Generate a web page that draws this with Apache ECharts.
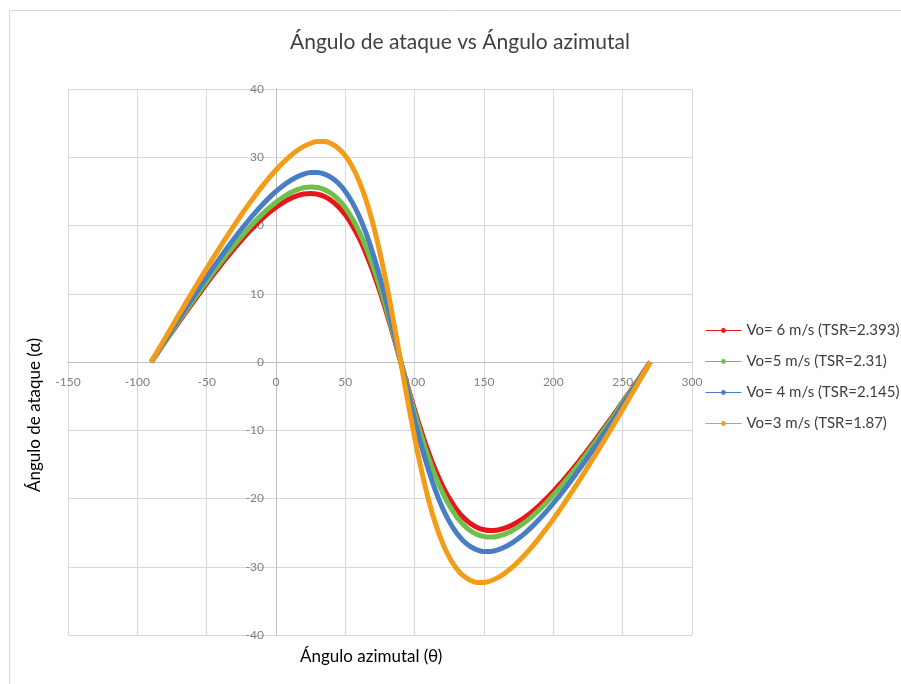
<!DOCTYPE html>
<html>
<head>
<meta charset="utf-8">
<title>Ángulo de ataque vs Ángulo azimutal</title>
<script src="https://cdn.jsdelivr.net/npm/echarts@6/dist/echarts.min.js"></script>
<style>
    html, body {margin: 0; padding: 0; background: #fff;}
    #chart {width: 901px; height: 684px;}
</style>
</head>
<body>
<div id="chart"></div>
<script>
// azimuth angle (deg)
var azimut = [-90, -85, -80, -75, -70, -65, -60, -55, -50, -45, -40, -35, -30, -25, -20, -15, -10, -5, 0, 5, 10, 15, 20, 25, 30, 35,
    40, 45, 50, 55, 60, 65, 70, 75, 80, 85, 90, 95, 100, 105, 110, 115, 120, 125, 130, 135, 140, 145, 150, 155, 160, 165, 170,
    175, 180, 185, 190, 195, 200, 205, 210, 215, 220, 225, 230, 235, 240, 245, 250, 255, 260, 265, 270];

// angle of attack (deg)
var vo6 = [0, 1.47, 2.94, 4.41, 5.86, 7.30, 8.72, 10.12, 11.50, 12.85, 14.16, 15.44, 16.66, 17.84, 18.96, 20.01, 20.99, 21.88,
    22.68, 23.37, 23.93, 24.35, 24.62, 24.70, 24.58, 24.24, 23.64, 22.76, 21.56, 20.02, 18.13, 15.87, 13.24, 10.28, 7.03, 3.57, 0,
    -3.57, -7.03, -10.28, -13.24, -15.87, -18.13, -20.02, -21.56, -22.76, -23.64, -24.24, -24.58, -24.70, -24.62, -24.35, -23.93,
    -23.37, -22.68, -21.88, -20.99, -20.01, -18.96, -17.84, -16.66, -15.44, -14.16, -12.85, -11.50, -10.12, -8.72, -7.30, -5.86,
    -4.41, -2.94, -1.47, 0];
var vo5 = [0, 1.51, 3.02, 4.52, 6.01, 7.49, 8.95, 10.39, 11.80, 13.19, 14.54, 15.86, 17.13, 18.35, 19.51, 20.61, 21.63, 22.57,
    23.41, 24.14, 24.75, 25.22, 25.53, 25.65, 25.57, 25.26, 24.68, 23.80, 22.60, 21.04, 19.10, 16.76, 14.01, 10.90, 7.47, 3.80, 0,
    -3.80, -7.47, -10.90, -14.01, -16.76, -19.10, -21.04, -22.60, -23.80, -24.68, -25.26, -25.57, -25.65, -25.53, -25.22, -24.75,
    -24.14, -23.41, -22.57, -21.63, -20.61, -19.51, -18.35, -17.13, -15.86, -14.54, -13.19, -11.80, -10.39, -8.95, -7.49, -6.01,
    -4.52, -3.02, -1.51, 0];
var vo4 = [0, 1.59, 3.18, 4.76, 6.33, 7.89, 9.43, 10.95, 12.45, 13.92, 15.36, 16.77, 18.13, 19.44, 20.70, 21.89, 23.01, 24.05,
    24.99, 25.83, 26.54, 27.12, 27.53, 27.75, 27.77, 27.53, 27.02, 26.19, 24.99, 23.39, 21.35, 18.84, 15.84, 12.38, 8.51, 4.34, 0,
    -4.34, -8.51, -12.38, -15.84, -18.84, -21.35, -23.39, -24.99, -26.19, -27.02, -27.53, -27.77, -27.75, -27.53, -27.12, -26.54,
    -25.83, -24.99, -24.05, -23.01, -21.89, -20.70, -19.44, -18.13, -16.77, -15.36, -13.92, -12.45, -10.95, -9.43, -7.89, -6.33,
    -4.76, -3.18, -1.59, 0];
var vo3 = [0, 1.74, 3.48, 5.21, 6.94, 8.66, 10.36, 12.04, 13.70, 15.34, 16.95, 18.53, 20.07, 21.57, 23.02, 24.41, 25.73, 26.98,
    28.14, 29.19, 30.14, 30.94, 31.59, 32.05, 32.30, 32.29, 31.97, 31.30, 30.21, 28.63, 26.47, 23.68, 20.19, 15.98, 11.10, 5.70, 0,
    -5.70, -11.10, -15.98, -20.19, -23.68, -26.47, -28.63, -30.21, -31.30, -31.97, -32.29, -32.30, -32.05, -31.59, -30.94, -30.14,
    -29.19, -28.14, -26.98, -25.73, -24.41, -23.02, -21.57, -20.07, -18.53, -16.95, -15.34, -13.70, -12.04, -10.36, -8.66, -6.94,
    -5.21, -3.48, -1.74, 0];

var seriesNames = ['Vo= 6 m/s (TSR=2.393)', 'Vo=5 m/s (TSR=2.31)', 'Vo= 4 m/s (TSR=2.145)', 'Vo=3 m/s (TSR=1.87)'];
var seriesData = [vo6, vo5, vo4, vo3];
var colorArr = ['#e8161b', '#6fbf4a', '#4a7ec4', '#f39c17'];

var font = 'Lato, "Liberation Sans", sans-serif';

function pairs(ys) {
    var out = [];
    for (var i = 0; i < azimut.length; i++) {
        out.push([azimut[i], ys[i]]);
    }
    return out;
}

var series = [];
for (var i = 0; i < seriesData.length; i++) {
    series.push({
        name: seriesNames[i],
        type: 'line',
        data: pairs(seriesData[i]),
        smooth: 0.4,
        symbol: 'circle',
        symbolSize: 5,
        showSymbol: false,
        lineStyle: {color: colorArr[i], width: 5},
        itemStyle: {color: colorArr[i]},
        emphasis: {disabled: true}
    });
}

var myChart = echarts.init(document.getElementById('chart'));

// the axes cross at 0 like in the spreadsheet: move them with a negative offset
var gridLeft = 68, gridRight = 692, gridTop = 89, gridBottom = 635;
var xZero = gridLeft + (0 - -150) / 450 * (gridRight - gridLeft);
var yZero = gridTop + (40 - 0) / 80 * (gridBottom - gridTop);

var option = {
    animation: false,
    color: colorArr,
    title: {
        text: 'Ángulo de ataque vs Ángulo azimutal',
        left: 455,
        textAlign: 'center',
        top: 27,
        textStyle: {fontFamily: font, fontSize: 21, fontWeight: 'normal', color: '#404040'}
    },
    grid: {left: gridLeft, right: 901 - gridRight, top: gridTop, bottom: 684 - gridBottom},
    legend: {
        orient: 'vertical',
        left: 700,
        top: 318,
        itemWidth: 36,
        itemHeight: 6,
        itemGap: 16,
        lineStyle: {width: 1},
        textStyle: {fontFamily: font, fontSize: 15, color: '#404040'},
        data: seriesNames
    },
    xAxis: {
        type: 'value',
        min: -150,
        max: 300,
        interval: 50,
        position: 'bottom',
        offset: -(gridBottom - yZero),
        axisLine: {onZero: false, lineStyle: {color: '#bfbfbf'}},
        axisTick: {show: false},
        axisLabel: {fontFamily: font, fontSize: 12, color: '#808080', margin: 14},
        splitLine: {lineStyle: {color: '#d9d9d9'}}
    },
    yAxis: {
        type: 'value',
        min: -40,
        max: 40,
        interval: 10,
        position: 'left',
        offset: -(xZero - gridLeft),
        axisLine: {show: true, onZero: false, lineStyle: {color: '#bfbfbf'}},
        axisTick: {show: false},
        axisLabel: {fontFamily: font, fontSize: 12, color: '#808080', margin: 12},
        splitLine: {lineStyle: {color: '#d9d9d9'}}
    },
    graphic: [
        {
            type: 'rect',
            shape: {x: 9.5, y: 10.5, width: 900, height: 680},
            style: {fill: 'none', stroke: '#d9d9d9', lineWidth: 1},
            silent: true
        },
        {
            type: 'text',
            left: 300,
            top: 648,
            style: {text: 'Ángulo azimutal (θ)', fontFamily: font, fontSize: 17, fill: '#000'}
        },
        {
            type: 'text',
            x: 26,
            y: 492,
            rotation: Math.PI / 2,
            style: {text: 'Ángulo de ataque (α)', fontFamily: font, fontSize: 17, fill: '#000'}
        }
    ],
    series: series
};

myChart.setOption(option);
</script>
</body>
</html>
